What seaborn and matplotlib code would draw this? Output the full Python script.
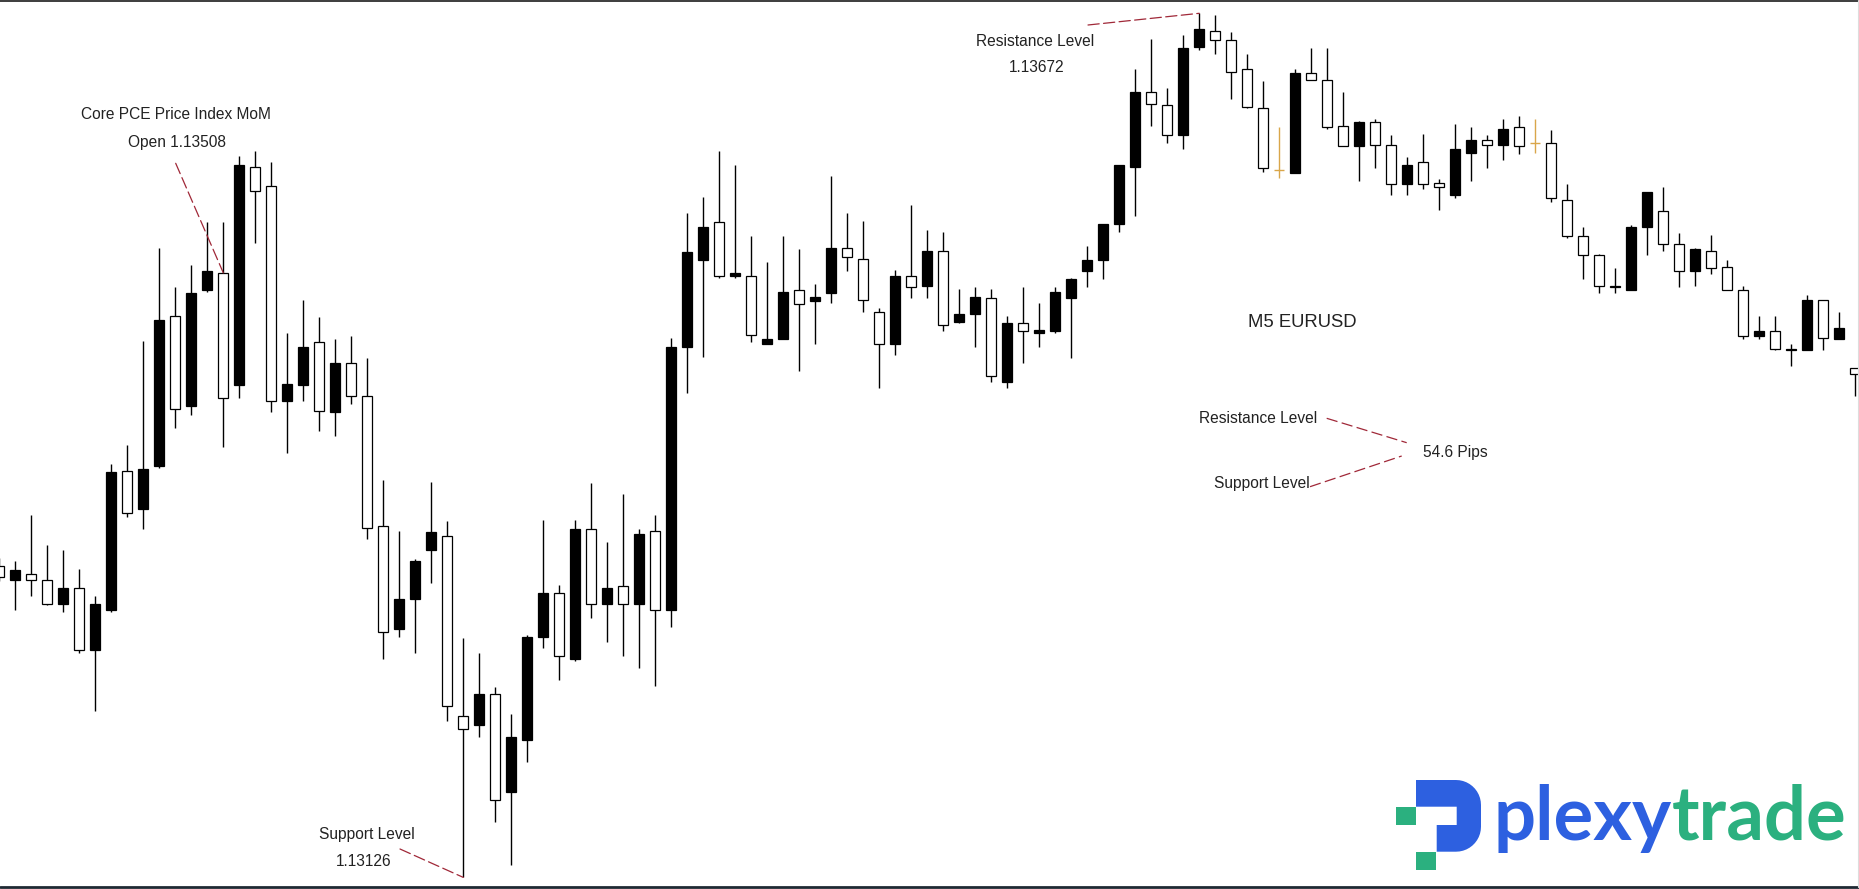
import numpy as np
import matplotlib
matplotlib.use("Agg")
import matplotlib.pyplot as plt
import matplotlib.patches as mpatches
import seaborn as sns

# M5 EURUSD bars (oldest first)
opens = [1.13323, 1.13314, 1.13318, 1.13314, 1.13299, 1.13309, 1.13270, 1.13295, 1.13383, 1.13359,
         1.13386, 1.13481, 1.13424, 1.13497, 1.13508, 1.13437, 1.13575, 1.13563, 1.13427, 1.13437,
         1.13464, 1.13420, 1.13451, 1.13430, 1.13348, 1.13283, 1.13302, 1.13333, 1.13342, 1.13228,
         1.13222, 1.13242, 1.13180, 1.13213, 1.13278, 1.13306, 1.13264, 1.13346, 1.13299, 1.13310,
         1.13299, 1.13345, 1.13295, 1.13461, 1.13516, 1.13540, 1.13506, 1.13506, 1.13463, 1.13466,
         1.13497, 1.13490, 1.13495, 1.13524, 1.13517, 1.13483, 1.13463, 1.13506, 1.13500, 1.13522,
         1.13477, 1.13482, 1.13492, 1.13439, 1.13476, 1.13470, 1.13471, 1.13492, 1.13509, 1.13516,
         1.13539, 1.13575, 1.13622, 1.13614, 1.13595, 1.13651, 1.13661, 1.13655, 1.13637, 1.13612,
         1.13573, 1.13571, 1.13634, 1.13630, 1.13601, 1.13588, 1.13603, 1.13589, 1.13564, 1.13578,
         1.13565, 1.13557, 1.13584, 1.13592, 1.13589, 1.13600, 1.13590, 1.13590, 1.13554, 1.13531,
         1.13519, 1.13500, 1.13497, 1.13537, 1.13547, 1.13526, 1.13509, 1.13522, 1.13512, 1.13497,
         1.13468, 1.13471, 1.13459, 1.13459, 1.13491, 1.13466, 1.13448]
highs = [1.13328, 1.13326, 1.13355, 1.13336, 1.13333, 1.13321, 1.13304, 1.13387, 1.13399, 1.13465,
         1.13524, 1.13499, 1.13513, 1.13540, 1.13540, 1.13582, 1.13585, 1.13578, 1.13470, 1.13491,
         1.13480, 1.13466, 1.13468, 1.13454, 1.13377, 1.13345, 1.13327, 1.13376, 1.13351, 1.13277,
         1.13268, 1.13246, 1.13229, 1.13279, 1.13352, 1.13311, 1.13352, 1.13375, 1.13338, 1.13368,
         1.13346, 1.13355, 1.13467, 1.13546, 1.13556, 1.13585, 1.13576, 1.13531, 1.13515, 1.13531,
         1.13523, 1.13501, 1.13569, 1.13546, 1.13541, 1.13486, 1.13510, 1.13551, 1.13535, 1.13534,
         1.13498, 1.13499, 1.13498, 1.13481, 1.13499, 1.13489, 1.13499, 1.13505, 1.13525, 1.13539,
         1.13576, 1.13637, 1.13656, 1.13625, 1.13658, 1.13672, 1.13671, 1.13660, 1.13646, 1.13629,
         1.13600, 1.13637, 1.13650, 1.13650, 1.13622, 1.13604, 1.13605, 1.13595, 1.13581, 1.13596,
         1.13567, 1.13602, 1.13600, 1.13595, 1.13605, 1.13607, 1.13605, 1.13598, 1.13564, 1.13537,
         1.13520, 1.13511, 1.13538, 1.13559, 1.13562, 1.13533, 1.13524, 1.13532, 1.13516, 1.13500,
         1.13481, 1.13481, 1.13463, 1.13494, 1.13491, 1.13483, 1.13448]
lows = [1.13313, 1.13295, 1.13304, 1.13298, 1.13294, 1.13268, 1.13231, 1.13294, 1.13354, 1.13346,
        1.13385, 1.13410, 1.13418, 1.13496, 1.13398, 1.13429, 1.13527, 1.13420, 1.13394, 1.13427,
        1.13408, 1.13405, 1.13425, 1.13340, 1.13264, 1.13278, 1.13268, 1.13312, 1.13225, 1.13126,
        1.13215, 1.13161, 1.13134, 1.13199, 1.13271, 1.13251, 1.13263, 1.13290, 1.13275, 1.13266,
        1.13258, 1.13247, 1.13284, 1.13432, 1.13455, 1.13505, 1.13505, 1.13464, 1.13463, 1.13466,
        1.13446, 1.13463, 1.13489, 1.13509, 1.13483, 1.13435, 1.13456, 1.13492, 1.13492, 1.13471,
        1.13476, 1.13461, 1.13439, 1.13435, 1.13451, 1.13461, 1.13470, 1.13454, 1.13499, 1.13504,
        1.13534, 1.13544, 1.13601, 1.13590, 1.13586, 1.13649, 1.13646, 1.13618, 1.13612, 1.13572,
        1.13568, 1.13571, 1.13630, 1.13599, 1.13588, 1.13566, 1.13574, 1.13557, 1.13557, 1.13561,
        1.13548, 1.13555, 1.13566, 1.13574, 1.13579, 1.13583, 1.13584, 1.13553, 1.13530, 1.13504,
        1.13495, 1.13495, 1.13497, 1.13519, 1.13522, 1.13499, 1.13500, 1.13507, 1.13497, 1.13466,
        1.13466, 1.13459, 1.13449, 1.13459, 1.13459, 1.13466, 1.13430]
closes = [1.13316, 1.13320, 1.13314, 1.13299, 1.13309, 1.13270, 1.13299, 1.13382, 1.13356, 1.13384,
          1.13478, 1.13422, 1.13495, 1.13509, 1.13429, 1.13576, 1.13560, 1.13427, 1.13438, 1.13461,
          1.13421, 1.13451, 1.13430, 1.13347, 1.13281, 1.13302, 1.13326, 1.13344, 1.13234, 1.13220,
          1.13242, 1.13175, 1.13215, 1.13278, 1.13306, 1.13266, 1.13346, 1.13299, 1.13309, 1.13299,
          1.13343, 1.13295, 1.13461, 1.13521, 1.13537, 1.13506, 1.13508, 1.13469, 1.13466, 1.13496,
          1.13488, 1.13493, 1.13524, 1.13518, 1.13491, 1.13463, 1.13506, 1.13499, 1.13522, 1.13475,
          1.13482, 1.13493, 1.13443, 1.13476, 1.13471, 1.13472, 1.13496, 1.13504, 1.13516, 1.13539,
          1.13576, 1.13622, 1.13615, 1.13595, 1.13650, 1.13662, 1.13655, 1.13635, 1.13613, 1.13574,
          1.13573, 1.13634, 1.13630, 1.13600, 1.13588, 1.13603, 1.13589, 1.13564, 1.13576, 1.13564,
          1.13562, 1.13586, 1.13592, 1.13589, 1.13599, 1.13588, 1.13590, 1.13555, 1.13531, 1.13519,
          1.13500, 1.13499, 1.13537, 1.13559, 1.13526, 1.13509, 1.13523, 1.13511, 1.13497, 1.13468,
          1.13471, 1.13460, 1.13460, 1.13491, 1.13467, 1.13473, 1.13444]

support_price = 1.13126
resistance_price = 1.13672
pce_open = 1.13508
pce_bar = 14
support_bar = 29
resistance_bar = 75
range_pips = round((resistance_price - support_price) * 10000, 1)

sns.set_theme(style="white")
plt.rcParams["font.family"] = ["Liberation Sans", "DejaVu Sans"]

W, H = 1859, 889
fig = plt.figure(figsize=(W / 100, H / 100), dpi=100)
fig.patch.set_facecolor("white")
ax = fig.add_axes([0, 0, 1, 1])
ax.set_facecolor("white")

o = np.array(opens)
c = np.array(closes)
hi = np.array(highs)
lo = np.array(lows)
x = np.arange(len(o))

up = c > o
down = c < o
flat = c == o
gold = "#d9a64a"

wick_cols = np.where(flat, gold, "black")
ax.vlines(x, lo, hi, colors=wick_cols, lw=1.0, zorder=1)

body_w = 0.63
ax.bar(x[up], (c - o)[up], bottom=o[up], width=body_w, color="black",
       edgecolor="black", linewidth=0.9, zorder=2)
ax.bar(x[down], (o - c)[down], bottom=c[down], width=body_w, color="white",
       edgecolor="black", linewidth=0.9, zorder=2)
ax.hlines(o[flat], x[flat] - body_w / 2, x[flat] + body_w / 2, colors=gold, lw=1.0, zorder=2)

# pixel mapping: bar 0 sits at px -0.7, 16 px per bar; support low at y=877.4, resistance high at y=13.3
ax.set_xlim(0.7 / 16, (W + 0.7) / 16)
ppu = (877.4 - 13.3) / (resistance_price - support_price)
ax.set_ylim(support_price - (H - 877.4) / ppu, resistance_price + 13.3 / ppu)
ax.axis("off")


def fx(px):
    return px / W


def fy(py):
    return 1 - py / H


txt_col = "#222222"
dash_col = "#a02838"
dash = (0, (9, 3.5))


def label(px, py, s, size=11.2):
    ax.text(fx(px), fy(py), s, transform=ax.transAxes, ha="center", va="center",
            fontsize=size, color=txt_col)


def dash_to_bar(px, py, xb, yb):
    ax.annotate("", xy=(xb, yb), xycoords="data", xytext=(fx(px), fy(py)),
                textcoords="axes fraction",
                arrowprops=dict(arrowstyle="-", color=dash_col, lw=0.9, linestyle=dash,
                                shrinkA=0, shrinkB=0))


def dash_px(p1, p2):
    ax.plot([fx(p1[0]), fx(p2[0])], [fy(p1[1]), fy(p2[1])], transform=ax.transAxes,
            color=dash_col, lw=0.9, linestyle=dash, clip_on=False)


label(176, 114.6, "Core PCE Price Index MoM")
label(177, 142.7, f"Open {pce_open:.5f}")
dash_to_bar(175.7, 163.3, pce_bar, pce_open)

label(1035, 41, "Resistance Level")
label(1036.5, 67, f"{resistance_price:.5f}")
dash_to_bar(1088, 25, resistance_bar, resistance_price)

label(367, 834, "Support Level")
label(364, 861.7, f"{support_price:.5f}")
dash_to_bar(400, 849, support_bar, support_price)

label(1302, 322.7, "M5 EURUSD", size=13.3)

label(1258, 418.3, "Resistance Level")
label(1455, 452.3, f"{range_pips} Pips")
label(1262, 483.3, "Support Level")
dash_px((1326.7, 418.3), (1406.7, 442.7))
dash_px((1310, 486.7), (1401.7, 456))

# chart frame
ax.plot([0, 1], [fy(0.6), fy(0.6)], transform=ax.transAxes, color="#1b1b1b", lw=1.2, clip_on=False)
ax.plot([0, 1], [fy(887.2), fy(887.2)], transform=ax.transAxes, color="#1f2933", lw=2.0, clip_on=False)
ax.plot([fx(1857.5), fx(1857.5)], [fy(0), fy(887)], transform=ax.transAxes, color="#dddddd", lw=0.8,
        clip_on=False)

# plexytrade logo
blue = "#2d60e0"
green = "#2bb07f"
r = 25.0
pts = [(1416, 780), (1456, 780)]
for a in np.linspace(90, 0, 12):
    pts.append((1456 + r * np.cos(np.radians(a)), 780 + r - r * np.sin(np.radians(a))))
for a in np.linspace(0, -90, 12):
    pts.append((1456 + r * np.cos(np.radians(a)), 851.7 - r - r * np.sin(np.radians(a))))
pts += [(1436.7, 851.7), (1436.7, 825), (1456.7, 825), (1456.7, 806.7), (1416, 806.7)]
ax.add_patch(mpatches.Polygon([(fx(a), fy(b)) for a, b in pts], closed=True, transform=ax.transAxes,
                              facecolor=blue, edgecolor="none", zorder=5))
for x0, y0 in [(1396, 806.7), (1416, 851.7)]:
    ax.add_patch(mpatches.Rectangle((fx(x0), fy(y0 + 18.5)), 20 / W, 18.5 / H, transform=ax.transAxes,
                                    facecolor=green, edgecolor="none", zorder=5))

logo_font = ["Lato", "DejaVu Sans"]
t1 = ax.text(fx(1493), fy(840), "plexy", transform=ax.transAxes, ha="left", va="baseline",
             fontsize=50, fontweight="bold", color=blue, family=logo_font)
t2 = ax.text(fx(1680), fy(840), "trade", transform=ax.transAxes, ha="left", va="baseline",
             fontsize=50, fontweight="bold", color=green, family=logo_font)
fig.canvas.draw()
rend = fig.canvas.get_renderer()
w_tot = t1.get_window_extent(rend).width + t2.get_window_extent(rend).width
scale = 354 / w_tot
t1.set_fontsize(50 * scale)
t2.set_fontsize(50 * scale)
fig.canvas.draw()
b1 = t1.get_window_extent(rend)
t2.set_position((fx(b1.x1 + 1), fy(840)))

fig.savefig("out.png", dpi=100, facecolor="white")
